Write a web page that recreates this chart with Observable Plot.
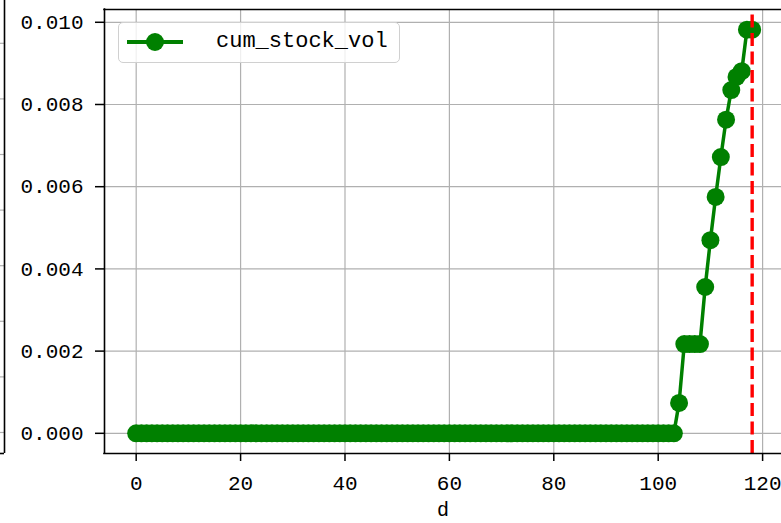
<!DOCTYPE html>
<html>
<head>
<meta charset="utf-8">
<script src="https://cdn.jsdelivr.net/npm/d3@7"></script>
<script src="https://cdn.jsdelivr.net/npm/@observablehq/plot@0.6"></script>
<style>
  html, body { margin: 0; padding: 0; background: #ffffff; }
  #wrap { position: relative; width: 781px; height: 523px; overflow: hidden; background: #fff; }
  #wrap svg { position: absolute; top: 0; left: 0; }
  #legend {
    position: absolute; left: 118px; top: 22px; width: 280px; height: 39px;
    border: 1.2px solid #d0d0d0; border-radius: 5px; background: rgba(255,255,255,0.8);
    font-family: "Liberation Mono", monospace; font-size: 22px; color: #000;
  }
  #legend .sw-line { position: absolute; left: 8px; top: 17px; width: 56px; height: 3.5px; background: #008000; }
  #legend .sw-dot { position: absolute; left: 27px; top: 9.5px; width: 18px; height: 18px; border-radius: 50%; background: #008000; }
  #legend .lab { position: absolute; left: 97px; top: 4px; line-height: 30px; white-space: nowrap; }
</style>
</head>
<body>
<div id="wrap"></div>
<script>
// ---- data ----
const seriesName = "cum_stock_vol";
const xLabel = "d";
const days = d3.range(0, 119);
const cumStockVol = [
  0, 0, 0, 0, 0, 0, 0, 0, 0, 0,
  0, 0, 0, 0, 0, 0, 0, 0, 0, 0,
  0, 0, 0, 0, 0, 0, 0, 0, 0, 0,
  0, 0, 0, 0, 0, 0, 0, 0, 0, 0,
  0, 0, 0, 0, 0, 0, 0, 0, 0, 0,
  0, 0, 0, 0, 0, 0, 0, 0, 0, 0,
  0, 0, 0, 0, 0, 0, 0, 0, 0, 0,
  0, 0, 0, 0, 0, 0, 0, 0, 0, 0,
  0, 0, 0, 0, 0, 0, 0, 0, 0, 0,
  0, 0, 0, 0, 0, 0, 0, 0, 0, 0,
  0, 0, 0, 0,
  0.00074,
  0.00217, 0.00217, 0.00217, 0.00217,
  0.00356, 0.00470, 0.00575, 0.00672, 0.00763,
  0.00835, 0.00867, 0.00881,
  0.00982, 0.00982
];
const markerDay = [118];
const xTicks = [0, 20, 40, 60, 80, 100, 120];
const yTicks = [0, 0.002, 0.004, 0.006, 0.008, 0.010];
const xDomain = [-6.07, 123.62];
const yDomain = [-0.000491, 0.010311];
// neighbouring (cropped) panel grid positions
const leftGrid = [0, 1, 2, 3, 4, 5, 6, 7];
const leftDomain = [-0.378, 7.77];

const data = days.map((d, i) => ({d, v: cumStockVol[i]}));

const font = "Liberation Mono";
const gridStyle = {stroke: "#b0b0b0", strokeOpacity: 1, strokeWidth: 1.2};

const main = Plot.plot({
  width: 781, height: 523,
  marginLeft: 104, marginRight: 0, marginTop: 9, marginBottom: 70,
  style: {fontFamily: font, fontSize: "21px", color: "#000", background: "transparent", overflow: "visible"},
  x: {domain: xDomain},
  y: {domain: yDomain},
  marks: [
    Plot.gridX(xTicks, gridStyle),
    Plot.gridY(yTicks, gridStyle),
    Plot.line(data, {x: "d", y: "v", stroke: "#008000", strokeWidth: 3.5}),
    Plot.dot(data, {x: "d", y: "v", r: 9, fill: "#008000", stroke: "none"}),
    Plot.ruleX(markerDay, {y1: yDomain[0], y2: yDomain[1], stroke: "#ff0000", strokeWidth: 3.4, strokeDasharray: "13,5.5"}),
    Plot.ruleX([xDomain[0]], {stroke: "#000", strokeWidth: 1.6, strokeLinecap: "square"}),
    Plot.ruleY([yDomain[0]], {stroke: "#000", strokeWidth: 1.6, strokeLinecap: "square"}),
    Plot.ruleY([yDomain[1]], {stroke: "#000", strokeWidth: 1.6, strokeLinecap: "square"}),
    Plot.axisX(xTicks, {tickSize: 8, tickPadding: 14, strokeWidth: 1.5, stroke: "#000", fill: "#000", fontSize: 21, label: null, tickFormat: d => String(d)}),
    Plot.axisY(yTicks, {tickSize: 9, tickPadding: 12, strokeWidth: 1.5, stroke: "#000", fill: "#000", fontSize: 21, label: null, tickFormat: d3.format(".3f")}),
    Plot.text([xLabel], {text: d => d, frameAnchor: "bottom", lineAnchor: "middle", dy: 56, fontSize: 20, fill: "#000"})
  ]
});

const left = Plot.plot({
  width: 6, height: 523,
  marginLeft: 0, marginRight: 2, marginTop: 0, marginBottom: 70,
  style: {background: "transparent", overflow: "visible"},
  x: {domain: [0, 1], axis: null},
  y: {domain: leftDomain, axis: null},
  marks: [
    Plot.gridY(leftGrid, gridStyle),
    Plot.ruleX([1], {stroke: "#000", strokeWidth: 1.6}),
    Plot.ruleY([leftDomain[0]], {stroke: "#000", strokeWidth: 1.6})
  ]
});

const wrap = document.getElementById("wrap");
wrap.appendChild(main);
wrap.appendChild(left);

const legend = document.createElement("div");
legend.id = "legend";
legend.innerHTML = '<div class="sw-line"></div><div class="sw-dot"></div><div class="lab"></div>';
legend.querySelector(".lab").textContent = seriesName;
wrap.appendChild(legend);
</script>
</body>
</html>
